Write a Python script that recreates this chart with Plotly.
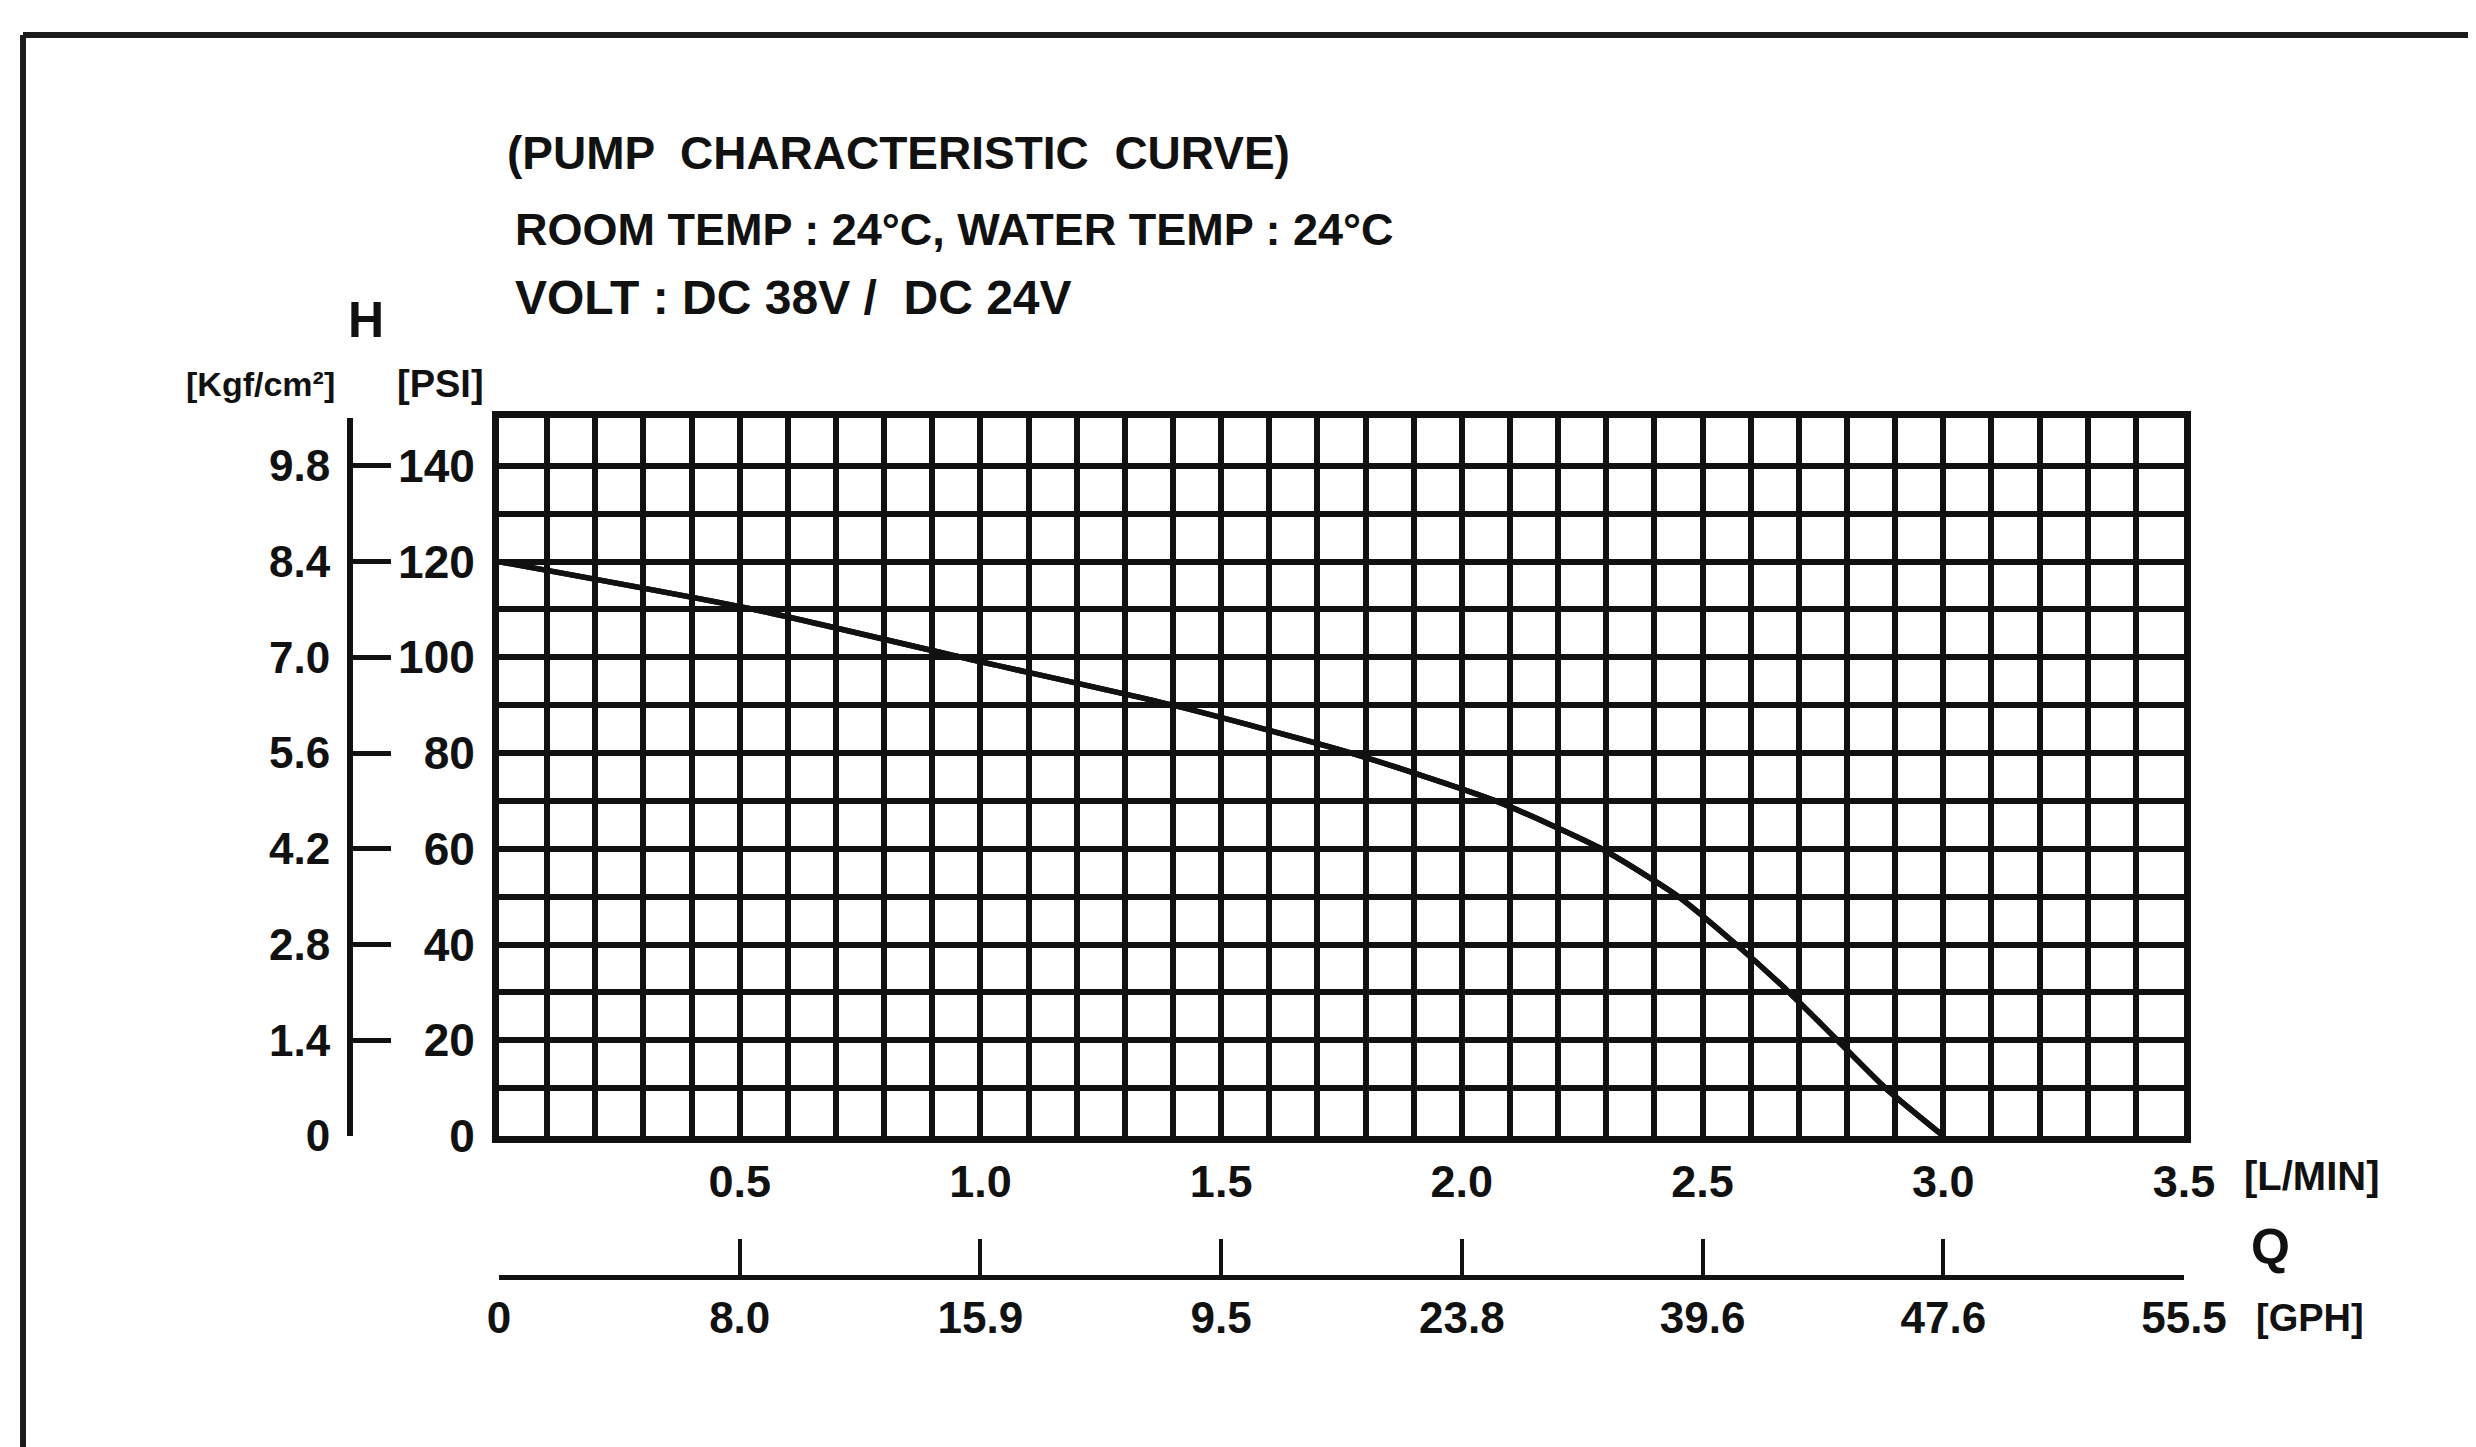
import plotly.graph_objects as go

# ---------------- data ----------------
flow_lpm = [0.0, 0.53, 0.96, 1.40, 1.77, 2.07, 2.29, 2.45, 2.57, 2.68, 2.78, 2.88, 3.0]
head_psi = [120, 110, 100, 90, 80, 70, 60, 50, 40, 30, 20, 10, 0]

lpm_ticks = [0.5, 1.0, 1.5, 2.0, 2.5, 3.0, 3.5]
lpm_labels = ["0.5", "1.0", "1.5", "2.0", "2.5", "3.0", "3.5"]
gph_ticks = [0.0, 0.5, 1.0, 1.5, 2.0, 2.5, 3.0, 3.5]
gph_labels = ["0", "8.0", "15.9", "9.5", "23.8", "39.6", "47.6", "55.5"]
psi_ticks = [0, 20, 40, 60, 80, 100, 120, 140]
psi_labels = ["0", "20", "40", "60", "80", "100", "120", "140"]
kgf_ticks = [0, 20, 40, 60, 80, 100, 120, 140, 150]
kgf_labels = ["0", "1.4", "2.8", "4.2", "5.6", "7.0", "8.4", "9.8", ""]

title_lines = ["(PUMP  CHARACTERISTIC  CURVE)",
               "ROOM TEMP : 24°C, WATER TEMP : 24°C",
               "VOLT : DC 38V /  DC 24V"]

# ---------------- geometry (screen pixels) ----------------
W, H = 2476, 1447
OFF = 8  # default page margin around the plot div
PL, PR, PT, PB = 499, 2184, 418, 1136


def px(x):
    return (x - OFF) / W


def py(y):
    return 1 - (y - OFF) / H


FONT = "Liberation Sans, Arial, sans-serif"
BLACK = "#111111"

fig = go.Figure()

fig.add_trace(go.Scatter(
    x=flow_lpm, y=head_psi, mode="lines",
    line=dict(color=BLACK, width=5.5, shape="spline", smoothing=0.6),
    showlegend=False, hoverinfo="x+y",
))
# same curve on the secondary (GPH / kgf) axes so those axes are drawn
fig.add_trace(go.Scatter(
    x=flow_lpm, y=head_psi, mode="lines", xaxis="x2", yaxis="y2",
    line=dict(color=BLACK, width=5.5, shape="spline", smoothing=0.6),
    showlegend=False, hoverinfo="skip",
))

fig.update_layout(
    width=W, height=H,
    margin=dict(l=0, r=0, t=0, b=0, pad=0),
    paper_bgcolor="white", plot_bgcolor="white",
    showlegend=False,
    xaxis=dict(
        domain=[px(PL), px(PR)], range=[0, 3.5], anchor="y",
        tickvals=lpm_ticks, ticktext=lpm_labels, ticks="", ticklen=0,
        tickfont=dict(family=FONT, size=45, color=BLACK, weight="bold"),
        ticklabelstandoff=0,
        showgrid=True, gridcolor=BLACK, gridwidth=6,
        minor=dict(dtick=0.1, tick0=0, showgrid=True, gridcolor=BLACK, gridwidth=6, ticks=""),
        showline=True, linecolor=BLACK, linewidth=7, mirror=True,
        zeroline=False, fixedrange=True, automargin=False,
    ),
    yaxis=dict(
        domain=[py(PB), py(PT)], range=[0, 150], anchor="x",
        tickvals=psi_ticks, ticktext=psi_labels, ticks="", ticklen=0,
        tickfont=dict(family=FONT, size=46, color=BLACK, weight="bold"),
        ticklabelstandoff=8,
        showgrid=True, gridcolor=BLACK, gridwidth=6,
        minor=dict(dtick=10, tick0=0, showgrid=True, gridcolor=BLACK, gridwidth=6, ticks=""),
        showline=True, linecolor=BLACK, linewidth=7, mirror=True,
        zeroline=False, fixedrange=True, automargin=False,
    ),
    xaxis2=dict(
        overlaying="x", anchor="free", position=py(1277), side="bottom",
        range=[0, 3.5], tickvals=gph_ticks, ticktext=gph_labels,
        ticks="inside", ticklen=36, tickwidth=4, tickcolor=BLACK,
        tickfont=dict(family=FONT, size=44, color=BLACK, weight="bold"),
        ticklabelstandoff=0,
        showgrid=False, showline=True, linecolor=BLACK, linewidth=5,
        zeroline=False, fixedrange=True, automargin=False,
    ),
    yaxis2=dict(
        overlaying="y", anchor="free", position=px(350), side="left",
        range=[0, 150], tickvals=kgf_ticks, ticktext=kgf_labels,
        ticks="inside", ticklen=38, tickwidth=5, tickcolor=BLACK,
        tickfont=dict(family=FONT, size=44, color=BLACK, weight="bold"),
        ticklabelstandoff=8,
        showgrid=False, showline=True, linecolor=BLACK, linewidth=6,
        zeroline=False, fixedrange=True, automargin=False,
    ),
)

annotations = []
title_y = [153, 229, 297]
title_x = [505, 513, 513]
title_size = [46, 45, 48]
for t, yy, xx, sz in zip(title_lines, title_y, title_x, title_size):
    annotations.append(dict(
        text=t, x=px(xx), y=py(yy), xref="paper", yref="paper",
        xanchor="left", yanchor="middle", showarrow=False,
        font=dict(family=FONT, size=sz, color=BLACK, weight="bold"),
    ))

small_labels = [
    ("H", 366, 320, "center", 50),
    ("[Kgf/cm²]", 260, 384, "center", 34),
    ("[PSI]", 440, 384, "center", 38),
    ("[L/MIN]", 2242, 1176, "left", 40),
    ("Q", 2270, 1247, "center", 50),
    ("[GPH]", 2254, 1318, "left", 38),
]
for t, xx, yy, anc, sz in small_labels:
    annotations.append(dict(
        text=t, x=px(xx), y=py(yy), xref="paper", yref="paper",
        xanchor=anc, yanchor="middle", showarrow=False,
        font=dict(family=FONT, size=sz, color=BLACK, weight="bold"),
    ))
fig.update_layout(annotations=annotations)

# outer drawing frame (top and left edges visible in the reference)
fig.add_shape(type="line", xref="paper", yref="paper",
              x0=px(23), y0=py(35), x1=1.0, y1=py(35),
              line=dict(color="#1c1c1c", width=6))
fig.add_shape(type="line", xref="paper", yref="paper",
              x0=px(23), y0=py(35), x1=px(23), y1=0.0,
              line=dict(color="#1c1c1c", width=6))

fig.write_html("out.html")
